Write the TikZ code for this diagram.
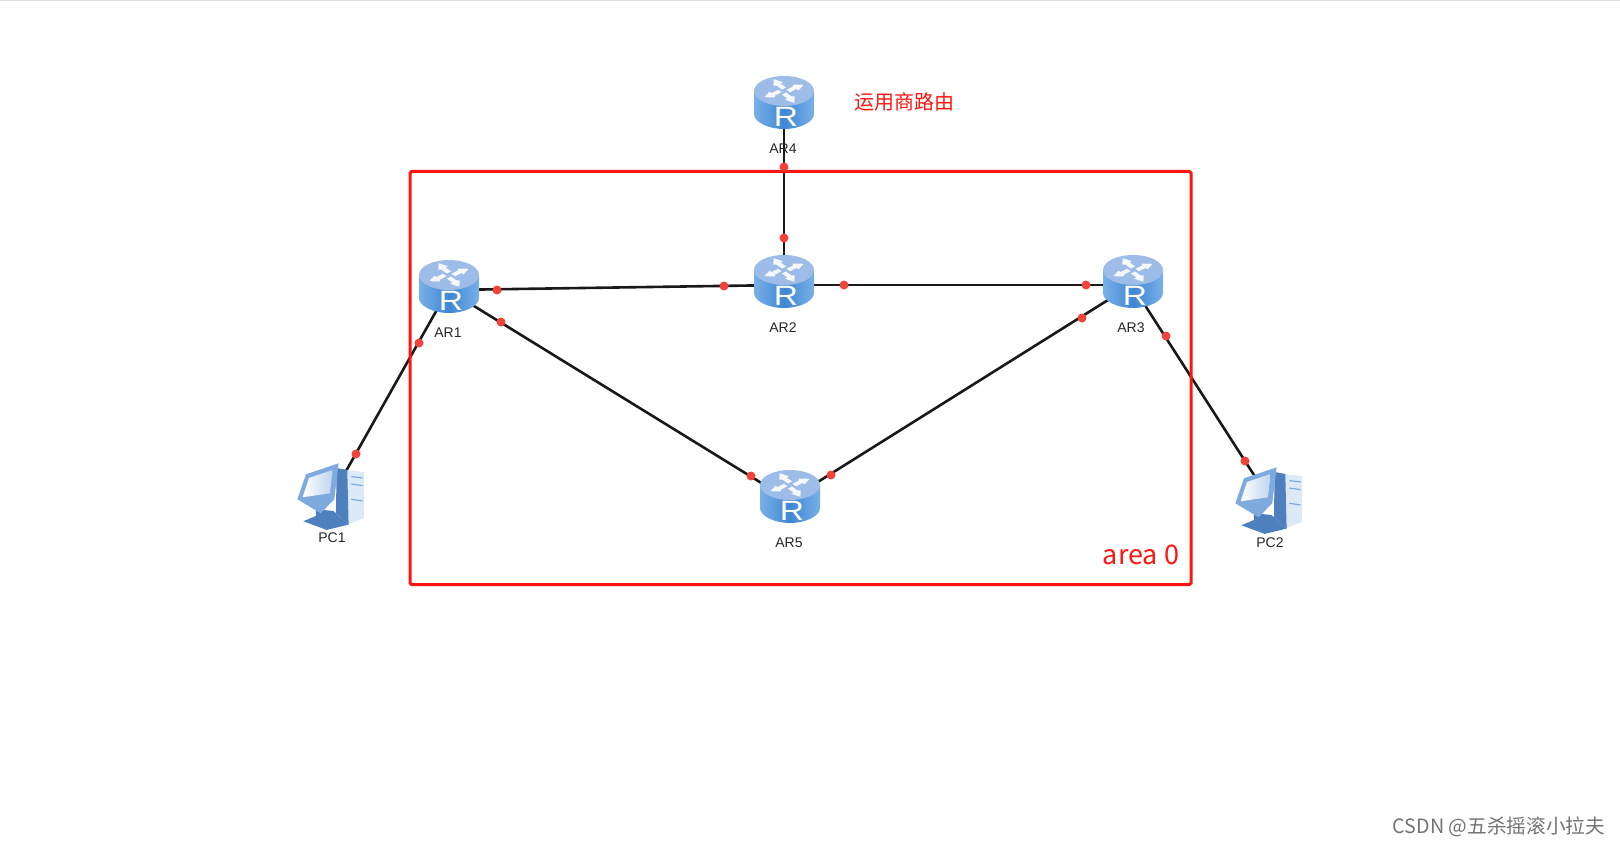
\documentclass[tikz,border=0pt]{standalone}
\usepackage{fontspec}
\setmainfont{Liberation Sans}
\newfontfamily\cjkfont{Noto Sans CJK SC}
\usepackage{xcolor}
\definecolor{sideblue}{HTML}{3F87D3}
\definecolor{edgeblue}{HTML}{79B0E8}
\definecolor{topblue}{HTML}{9DBDE8}
\definecolor{portred}{HTML}{F2423C}
\definecolor{areared}{HTML}{FF1410}
\definecolor{screenblue}{HTML}{7FAADD}
\definecolor{casedark}{HTML}{4F80BE}
\definecolor{caselight}{HTML}{DCEAF8}

\begin{document}
\begin{tikzpicture}[
    x=1pt, y=-1pt,
    device/.style={minimum width=36pt, minimum height=36pt, inner sep=0pt},
    link/.style={line width=2.6pt, draw=black!90},
    port/.style={circle, fill=portred, minimum size=9pt, inner sep=0pt},
    devlabel/.style={font=\fontsize{14}{14}\selectfont, text=black!85, inner sep=0pt},
    areabox/.style={draw=areared, line width=3pt, rounded corners=1.5pt, minimum width=781pt, minimum height=413pt, inner sep=0pt},
    routericon/.pic={
        \path[left color=edgeblue, right color=edgeblue, middle color=sideblue]
            (-30,-11) -- (-30,11) .. controls (-30,19) and (-16,26) .. (0,26)
            .. controls (16,26) and (30,19) .. (30,11) -- (30,-11) -- cycle;
        \fill[topblue] (0,-12) ellipse [x radius=30pt, y radius=15pt];
        \foreach \a in {20,110,200,290}
            \fill[white!90!topblue, shift={(0,-12)}, yscale=0.6, rotate=\a]
                (3,-1) -- (11,-4) -- (12,-7) -- (22,-3) -- (14,4) -- (13,1) -- (5,4) -- cycle;
        \node[text=white, font=\fontsize{28}{28}\selectfont, inner sep=0pt, xscale=1.2, transform shape] (-r) at (2,14) {R};
    },
    pcicon/.pic={
        \begin{scope}[shift={(-42,-40)}, x=0.333pt, y=-0.333pt]
            \fill[caselight] (165,42) -- (222,48) -- (222,186) -- (172,206) -- cycle;
            \fill[casedark] (140,36) -- (172,42) -- (176,206) -- (138,172) -- cycle;
            \fill[casedark] (78,160) -- (78,180) -- (40,196) -- (110,222) -- (176,206) -- (130,165) -- cycle;
            \fill[screenblue] (48,55) -- (146,22) -- (133,130) -- (92,172) -- (22,130) -- cycle;
            \shade[left color=white, right color=screenblue!50] (57,66) -- (128,42) -- (120,112) -- (38,124) -- cycle;
            \draw[screenblue, line width=1.2pt] (184,62) -- (218,66) (184,84) -- (218,89) (184,130) -- (218,135);
        \end{scope}
    }
]
    \useasboundingbox (0,0) rectangle (1620,845);
    \fill[black!12] (0,0) rectangle (1620,1);

    \node[device] (ar1) at (448,290) {};
    \node[device] (ar2) at (784,285) {};
    \node[device] (ar3) at (1132,285) {};
    \node[device] (ar4) at (784,106) {};
    \node[device] (ar5) at (789,500) {};
    \node[device] (pc1) at (332,496) {};
    \node[device] (pc2) at (1270,500) {};

    % links
    \draw[link] (ar4) -- (ar2);
    \draw[link] (ar1) -- (ar2);
    \draw[link] (ar2) -- (ar3);
    \draw[link] (ar1) -- (ar5);
    \draw[link] (ar3) -- (ar5);
    \draw[link] (ar1) -- (pc1);
    \draw[link] (ar3) -- (pc2);

    \node[areabox] (area0) at (800.5,378) {};

    % ports
    \foreach \name/\px/\py in {p1/784/167, p2/784/238, p3/497/290, p4/724/286, p5/844/285, p6/1086/285,
        p7/501/322, p8/751/476, p9/831/475, p10/1082/318, p11/419/343, p12/356/454, p13/1166/336, p14/1245/461}
        \node[port] (\name) at (\px,\py) {};

    \pic (ar1icon) at (449,287) {routericon};
    \pic (ar2icon) at (784,282) {routericon};
    \pic (ar3icon) at (1133,282) {routericon};
    \pic (ar4icon) at (784,103) {routericon};
    \pic (ar5icon) at (790,497) {routericon};
    \pic (pc1icon) at (pc1) {pcicon};
    \pic (pc2icon) at (pc2) {pcicon};

    \node[devlabel] (ar1text) at (448,333) {AR1};
    \node[devlabel] (ar2text) at (783,328) {AR2};
    \node[devlabel] (ar3text) at (1131,328) {AR3};
    \node[devlabel] (ar4text) at (783,149) {AR4};
    \node[devlabel] (ar5text) at (789,543) {AR5};
    \node[devlabel] (pc1text) at (332,538) {PC1};
    \node[devlabel] (pc2text) at (1270,543) {PC2};

    \node[text=areared, font=\cjkfont\fontsize{20}{20}\selectfont, inner sep=0pt] (isp) at (904,102) {运用商路由};
    \node[text=areared, font=\cjkfont\fontsize{27}{27}\selectfont, inner sep=0pt] (areatext) at (1141,555) {area 0};
    \node[text=black!55, font=\cjkfont\fontsize{19.7}{20}\selectfont, inner sep=0pt] (mark) at (1499,827) {CSDN @五杀摇滚小拉夫};
\end{tikzpicture}
\end{document}
